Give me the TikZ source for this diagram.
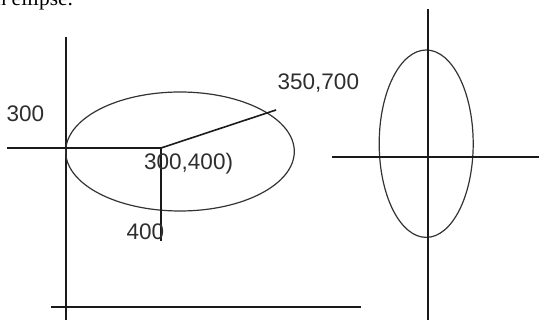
\documentclass[tikz,border=0pt]{standalone}
\usepackage{fontspec}
\setmainfont{Liberation Serif}
\setsansfont{Liberation Sans}
\usepackage{tikz}
\usetikzlibrary{positioning, calc}
\definecolor{axisblack}{HTML}{1A1A1A}
\definecolor{curvegray}{HTML}{333333}
\definecolor{labelgray}{HTML}{2E2E2E}

\begin{document}
\begin{tikzpicture}[x=1pt, y=-1pt, font=\sffamily\fontsize{22.5}{24}\selectfont]
    \useasboundingbox (0,0) rectangle (539,320);
    \clip (0,0) rectangle (539,320);
    \tikzset{
        axisline/.style={draw=axisblack, line width=1.6pt},
        curveline/.style={draw=curvegray, line width=1.2pt},
        numlabel/.style={anchor=base west, inner sep=0pt, text=labelgray}
    }

    % Caption line cut by the top edge
    \node[anchor=base west, inner sep=0pt, font=\rmfamily\fontsize{21.4}{24}\selectfont] (caption) at (-4.5, 5.5) {n ellipse.};

    % Left figure: axes
    \coordinate (ytop) at (66, 37);
    \coordinate (ybot) at (66, 320);
    \coordinate (xleft) at (51, 307);
    \coordinate (xright) at (361, 307);
    \draw[axisline] (ytop) -- (ybot);
    \draw[axisline] (xleft) -- (xright);

    % Left figure: ellipse and its radii
    \coordinate (centre) at (161, 148);
    \coordinate (hstart) at (7, 148);
    \coordinate (vend) at (161, 241);
    \coordinate (rend) at (276, 110);
    \draw[curveline] (180, 151.5) ellipse [x radius=114.3, y radius=59.5];
    \draw[axisline] (hstart) -- (centre);
    \draw[axisline] (centre) -- (vend);
    \draw[axisline] (centre) -- (rend);

    % Labels
    \node[numlabel] (lblyc) at (6.5, 121.7) {300};
    \node[numlabel] (lblpt) at (277.5, 90) {350,700};
    \node[numlabel] (lblc) at (144, 170) {300,400)};
    \node[numlabel] (lblxc) at (126.5, 239.3) {400};

    % Right figure: vertical ellipse on crossed axes
    \coordinate (rtop) at (428, 9);
    \coordinate (rbot) at (428, 320);
    \coordinate (rleft) at (332, 157);
    \coordinate (rright) at (539, 157);
    \draw[curveline] (426.2, 143.7) ellipse [x radius=47, y radius=93.7];
    \draw[axisline] (rtop) -- (rbot);
    \draw[axisline] (rleft) -- (rright);
\end{tikzpicture}
\end{document}
